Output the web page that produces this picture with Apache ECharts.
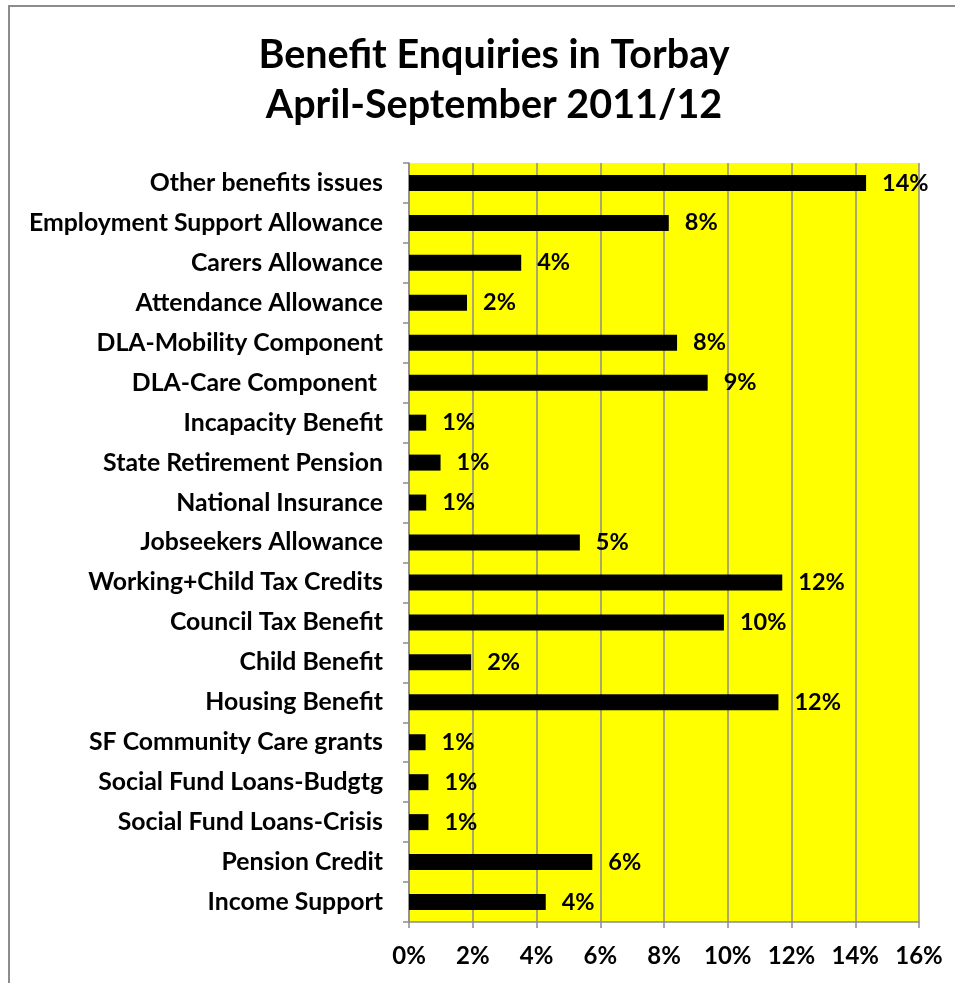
<!DOCTYPE html>
<html>
<head>
<meta charset="utf-8">
<script src="https://cdn.jsdelivr.net/npm/echarts@6/dist/echarts.min.js"></script>
<style>
html,body{margin:0;padding:0;background:#fff;}
#chart{width:955px;height:983px;}
</style>
</head>
<body>
<div id="chart"></div>
<script>
const categories = [
  "Other benefits issues",
  "Employment Support Allowance",
  "Carers Allowance",
  "Attendance Allowance",
  "DLA-Mobility Component",
  "DLA-Care Component ",
  "Incapacity Benefit",
  "State Retirement Pension",
  "National Insurance",
  "Jobseekers Allowance",
  "Working+Child Tax Credits",
  "Council Tax Benefit",
  "Child Benefit",
  "Housing Benefit",
  "SF Community Care grants",
  "Social Fund Loans-Budgtg",
  "Social Fund Loans-Crisis",
  "Pension Credit",
  "Income Support"
];
const values = [14.34, 8.15, 3.52, 1.82, 8.41, 9.37, 0.54, 0.99, 0.54, 5.36, 11.71, 9.88, 1.95, 11.59, 0.52, 0.61, 0.61, 5.75, 4.29];
const xTicks = { min: 0, max: 16, interval: 2 };
const titleLines = ["Benefit Enquiries in Torbay", "April-September 2011/12"];

const FONT = "Lato";
const chart = echarts.init(document.getElementById('chart'), null, {renderer: 'canvas'});
chart.setOption({
  backgroundColor: '#ffffff',
  animation: false,
  title: {
    text: titleLines.join('\n'),
    left: 489,
    top: 25,
    textAlign: 'center',
    textStyle: { fontFamily: FONT, fontWeight: 'bold', fontSize: 39.5, lineHeight: 50, color: '#000' }
  },
  graphic: [{
    type: 'rect',
    shape: { x: 9, y: 6, width: 1100, height: 1100 },
    style: { fill: 'none', stroke: '#8c8c8c', lineWidth: 2 },
    silent: true
  }],
  grid: { left: 409, right: 36, top: 163, bottom: 61, containLabel: false,
          show: true, backgroundColor: '#ffff00', borderWidth: 0 },
  xAxis: {
    type: 'value', min: xTicks.min, max: xTicks.max, interval: xTicks.interval,
    axisLine: { show: true, lineStyle: { color: '#8c8c8c', width: 1.5 } },
    axisTick: { show: true, length: 6, lineStyle: { color: '#8c8c8c', width: 1.5 } },
    splitLine: { show: true, lineStyle: { color: '#8c8c8c', width: 1.5 } },
    axisLabel: { formatter: '{value}%', margin: 22, fontFamily: FONT, fontWeight: 'bold', fontSize: 24, color: '#000' }
  },
  yAxis: {
    type: 'category', data: categories, inverse: true,
    axisLine: { show: true, lineStyle: { color: '#8c8c8c', width: 1.5 } },
    axisTick: { show: true, length: 6, lineStyle: { color: '#8c8c8c', width: 1.5 } },
    axisLabel: { margin: 26, fontFamily: FONT, fontWeight: 'bold', fontSize: 24.8, color: '#000' }
  },
  series: [{
    type: 'bar', data: values, barWidth: 16,
    itemStyle: { color: '#000' },
    label: { show: true, position: 'right', distance: 16,
             formatter: p => Math.round(p.value) + '%',
             fontFamily: FONT, fontWeight: 'bold', fontSize: 23.5, color: '#000' }
  }]
});
</script>
</body>
</html>
